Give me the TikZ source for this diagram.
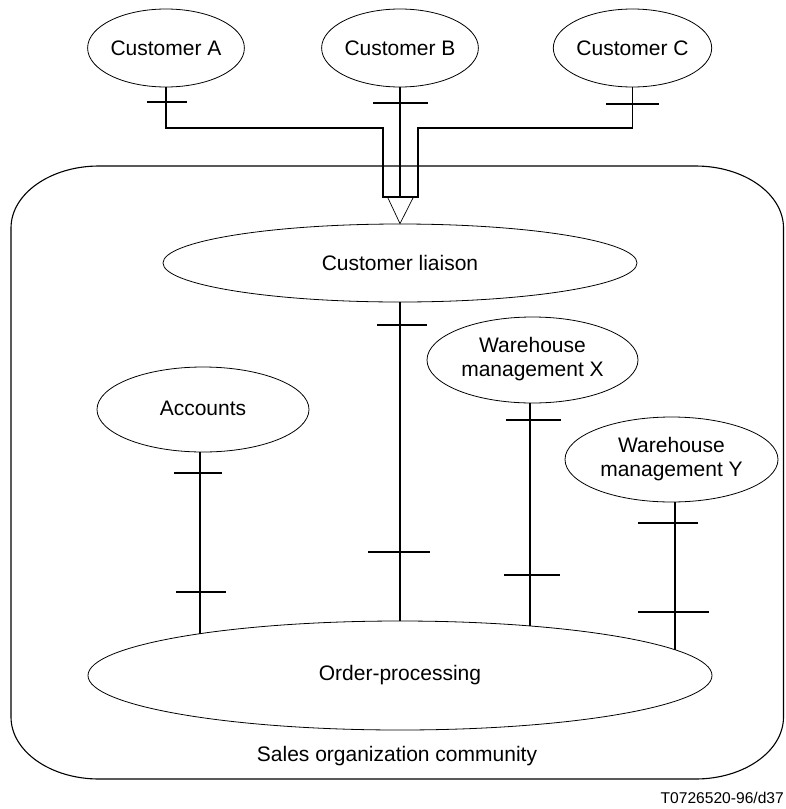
\documentclass[tikz,border=0pt]{standalone}
\usepackage{fontspec}
\setmainfont{Liberation Sans}
\usetikzlibrary{shapes.geometric}
\begin{document}
\begin{tikzpicture}[x=1pt,y=-1pt,
  ent/.style={ellipse, draw, line width=0.8pt, inner sep=0pt, align=center,
    font=\fontsize{21}{24}\selectfont},
  conn/.style={line width=1.6pt},
  tickmark/.style={line width=1.6pt},
  thinline/.style={line width=0.7pt},
  frame/.style={line width=1.1pt}]
\useasboundingbox (0,0) rectangle (785,809);

% community frame
\draw[frame] (99,166) -- (695.5,166)
  .. controls (744.1,166) and (783.5,193.8) .. (783.5,228) -- (783.5,717)
  .. controls (783.5,751.2) and (744.1,779) .. (695.5,779) -- (99,779)
  .. controls (50.4,779) and (11,751.2) .. (11,717) -- (11,228)
  .. controls (11,193.8) and (50.4,166) .. (99,166) -- cycle;

% objects
\node[ent, minimum width=156pt, minimum height=78pt] (ca) at (166,48) {Customer A};
\node[ent, minimum width=156pt, minimum height=78pt] (cb) at (400,48) {Customer B};
\node[ent, minimum width=157pt, minimum height=78pt] (cc) at (632.5,48) {Customer C};
\node[ent, minimum width=474pt, minimum height=78pt] (li) at (400,263) {Customer liaison};
\node[ent, minimum width=212pt, minimum height=85pt] (acc) at (203,409.5) {\raisebox{3pt}{Accounts}};
\node[ent, minimum width=211pt, minimum height=86pt] (wx) at (532.5,360) {\raisebox{3pt}{\begin{tabular}{@{}c@{}}Warehouse\\management X\end{tabular}}};
\node[ent, minimum width=213pt, minimum height=85pt] (wy) at (671.5,459.5) {\raisebox{2pt}{\begin{tabular}{@{}c@{}}Warehouse\\management Y\end{tabular}}};
\node[ent, minimum width=624pt, minimum height=109pt] (op) at (400,675.5) {Order-processing};

\node[font=\fontsize{21}{24}\selectfont, inner sep=0pt] (soc) at (397,756) {Sales organization community};
\node[font=\fontsize{15.6}{18}\selectfont, inner sep=0pt, anchor=east] (ref) at (784,798) {T0726520-96/d37};

% customer connectors
\coordinate (hA) at (166,128);
\coordinate (uL) at (383,128);
\coordinate (uLb) at (383,197);
\coordinate (uRb) at (418,197);
\coordinate (uR) at (418,128);
\coordinate (hC) at (632.5,128);
\draw[conn] (ca.south) -- (hA) -- (uL) -- (uLb) -- (uRb) -- (uR) -- (hC) -- (cc.south);
\draw[conn] (cb.south) -- (cb.south |- uLb);
\draw[thinline] (387.5,197) -- (li.north) -- (413.5,197);

\draw[tickmark] (147,102) -- (187,102);
\draw[tickmark] (373,103) -- (428,103);
\draw[tickmark] (606,104) -- (659,104);

% attachment points on the order-processing border
\coordinate (opA) at (200,633.7);
\coordinate (opX) at (530,626);
\coordinate (opY) at (675,649.8);

% internal connectors
\draw[conn] (li.south) -- (op.north);
\draw[conn] (opA |- acc.south) -- (opA);
\draw[conn] (opX |- wx.south) -- (opX);
\draw[conn] (opY |- wy.south) -- (opY);

\draw[tickmark] (377,325) -- (427,325);
\draw[tickmark] (368,552) -- (430,552);
\draw[tickmark] (174,473) -- (222,473);
\draw[tickmark] (176,592) -- (226,592);
\draw[tickmark] (506,420) -- (561,420);
\draw[tickmark] (504,575) -- (560,575);
\draw[tickmark] (638,523) -- (698,523);
\draw[tickmark] (638,612) -- (709,612);
\end{tikzpicture}
\end{document}
